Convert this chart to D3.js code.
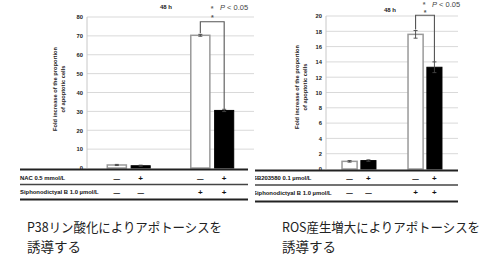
<!DOCTYPE html>
<html><head><meta charset="utf-8">
<script src="https://cdn.jsdelivr.net/npm/d3@7"></script>
<style>body{margin:0;background:#fff}svg{display:block}</style>
</head><body><svg id="c" width="492" height="268"></svg>
<script>
// ---- data ----
const groups = ["ctrl", "siph"];
const subgroups = ["minus", "plus"];
const leftValues = [1.6, 1.2, 70.3, 30.5];
const leftErrors = [0.3, 0.3, 0.5, 0.6];
const rightValues = [1.0, 1.1, 17.6, 13.3];
const rightErrors = [0.1, 0.1, 0.5, 0.7];
const leftTicks = [0, 10, 20, 30, 40, 50, 60, 70, 80];
const rightTicks = [0, 2, 4, 6, 8, 10, 12, 14, 16, 18, 20];
const row1Signs = ["—", "+", "—", "+"];
const row2Signs = ["—", "—", "+", "+"];
const leftRowLabels = ["NAC 0.5 mmol/L", "Siphonodictyal B 1.0 µmol/L"];
const rightRowLabels = ["SB203580 0.1 µmol/L", "Siphonodictyal B 1.0 µmol/L"];
const titleText = "48 h";
const sigStar = "*";
const sigText = "P < 0.05";
const yLabelLines = ["Fold increase of the proportion", "of apoptotic cells"];
const captionLeft = ["P38リン酸化によりアポトーシスを", "誘導する"];
const captionRight = ["ROS産生増大によりアポトーシスを", "誘導する"];
const leftBracketTop = 77.5, rightBracketTop = 20.1;

const svg = d3.select("#c");
svg.append("rect").attr("width", 492).attr("height", 268).attr("fill", "#fff");
const FONT = "'Liberation Sans', Arial, sans-serif";

function panel(cfg) {
  const g = svg.append("g");
  if (cfg.clipX != null) {
    const id = "clip" + cfg.clipX;
    svg.append("clipPath").attr("id", id).append("rect")
      .attr("x", cfg.clipX).attr("y", 0).attr("width", 492 - cfg.clipX).attr("height", 210);
    g.attr("clip-path", `url(#${id})`);
  }
  const y = d3.scaleLinear().domain(cfg.domain).range(cfg.yRange);
  const x = d3.scaleBand().domain(groups).range(cfg.xRange);
  const xi = d3.scaleBand().domain(subgroups).range([0, x.bandwidth()]).paddingInner(0.2).paddingOuter(0.85);
  const data = cfg.values.map((v, i) => ({ v, e: cfg.errors[i], g: groups[Math.floor(i / 2)], s: subgroups[i % 2], i }));
  const cx = d => x(d.g) + xi(d.s) + xi.bandwidth() / 2;

  // grid
  g.append("g").selectAll("line").data(cfg.ticks.filter(t => t > 0)).join("line")
    .attr("x1", cfg.xRange[0]).attr("x2", cfg.xRange[1])
    .attr("y1", d => y(d)).attr("y2", d => y(d))
    .attr("stroke", "#d9d9d9").attr("stroke-width", 1);
  // y axis line
  g.append("line").attr("x1", cfg.xRange[0]).attr("x2", cfg.xRange[0])
    .attr("y1", y(cfg.domain[1])).attr("y2", y(0)).attr("stroke", "#c8c8c8");
  // tick labels
  const yAxis = d3.axisLeft(y).tickValues(cfg.ticks).tickSize(0).tickPadding(4);
  const ya = g.append("g").attr("transform", `translate(${cfg.xRange[0]},0)`).call(yAxis);
  ya.select(".domain").remove();
  ya.selectAll("text").attr("font-family", FONT).attr("font-weight", "bold")
    .attr("font-size", 5.8).attr("fill", "#222");

  // y label
  const yl = g.append("text").attr("transform", `translate(${cfg.yLabelX},${cfg.yLabelY}) rotate(-90)`)
    .attr("text-anchor", "middle").attr("font-family", FONT).attr("font-weight", "bold")
    .attr("font-size", 5.7).attr("fill", "#222");
  yLabelLines.forEach((t, k) => yl.append("tspan").attr("x", 0).attr("dy", k === 0 ? 0 : 7.8).text(t));

  // bars
  g.append("g").selectAll("rect").data(data).join("rect")
    .attr("x", d => x(d.g) + xi(d.s)).attr("width", xi.bandwidth())
    .attr("y", d => y(d.v)).attr("height", d => y(0) - y(d.v))
    .attr("fill", d => d.s === "minus" ? "#fff" : "#000")
    .attr("stroke", d => d.s === "minus" ? "#9a9a9a" : "#000")
    .attr("stroke-width", d => d.s === "minus" ? 1.5 : 1);

  // error bars
  const eb = g.append("g").attr("stroke", "#444").attr("stroke-width", 0.9);
  data.forEach(d => {
    eb.append("line").attr("x1", cx(d)).attr("x2", cx(d)).attr("y1", y(d.v + d.e)).attr("y2", y(d.v - d.e));
    eb.append("line").attr("x1", cx(d) - 2).attr("x2", cx(d) + 2).attr("y1", y(d.v + d.e)).attr("y2", y(d.v + d.e));
    eb.append("line").attr("x1", cx(d) - 2).attr("x2", cx(d) + 2).attr("y1", y(d.v - d.e)).attr("y2", y(d.v - d.e));
  });

  // significance bracket
  const a = data[2], b = data[3];
  const path = d3.path();
  path.moveTo(cx(a), y(a.v + a.e) - 1);
  path.lineTo(cx(a), y(cfg.bracketTop));
  path.lineTo(cx(b), y(cfg.bracketTop));
  path.lineTo(cx(b), y(b.v + b.e));
  g.append("path").attr("d", path.toString()).attr("fill", "none").attr("stroke", "#555").attr("stroke-width", 1.1);
  g.append("text").attr("x", (cx(a) + cx(b)) / 2).attr("y", y(cfg.bracketTop) + cfg.starDy)
    .attr("text-anchor", "middle").attr("font-family", FONT).attr("font-weight", "bold")
    .attr("font-size", 7).attr("fill", "#555").text(sigStar);

  // title + legend
  g.append("text").attr("x", cfg.titleX).attr("y", cfg.titleY).attr("text-anchor", "middle")
    .attr("font-family", FONT).attr("font-weight", "bold").attr("font-size", 6).attr("fill", "#222").text(titleText);
  g.append("text").attr("x", cfg.legX).attr("y", cfg.legStarY).attr("text-anchor", "middle")
    .attr("font-family", FONT).attr("font-weight", "bold").attr("font-size", 7).attr("fill", "#666").text(sigStar);
  const lt = g.append("text").attr("x", cfg.legX + 8).attr("y", cfg.legY)
    .attr("font-family", FONT).attr("font-size", 7.5).attr("fill", "#444");
  lt.append("tspan").attr("font-style", "italic").text(sigText.slice(0, 1));
  lt.append("tspan").text(sigText.slice(1));

  // table lines
  const tl = g.append("g");
  [[cfg.tableY[0], "#222", 1.8], [cfg.tableY[1], "#444", 1.3], [cfg.tableY[2], "#222", 1.8]].forEach(([yy, c, w]) => {
    tl.append("line").attr("x1", cfg.tableX[0]).attr("x2", cfg.tableX[1]).attr("y1", yy).attr("y2", yy)
      .attr("stroke", c).attr("stroke-width", w);
  });
  // row labels
  cfg.rowLabels.forEach((t, k) => {
    g.append("text").attr("x", cfg.labelX).attr("y", cfg.rowY[k]).attr("dominant-baseline", "central")
      .attr("font-family", FONT).attr("font-weight", "bold").attr("font-size", 5.9).attr("fill", "#111").text(t);
  });
  [row1Signs, row2Signs].forEach((signs, k) => {
    g.append("g").selectAll("text").data(data).join("text")
      .attr("x", d => cx(d)).attr("y", cfg.rowY[k]).attr("dominant-baseline", "central")
      .attr("text-anchor", "middle").attr("font-family", FONT).attr("font-weight", "bold")
      .attr("font-size", d => signs[d.i] === "+" ? 8 : 6.5).attr("fill", "#111")
      .text(d => signs[d.i]);
  });

  // caption
  const cap = svg.append("g").attr("font-family", "'Noto Sans CJK JP', sans-serif").attr("font-size", 13).attr("fill", "#222");
  cap.append("text").attr("x", cfg.capX).attr("y", 232).attr("textLength", cfg.capW).attr("lengthAdjust", "spacingAndGlyphs").text(cfg.caption[0]);
  cap.append("text").attr("x", cfg.capX).attr("y", 252).attr("font-size", 13.5).text(cfg.caption[1]);
}

panel({
  domain: [0, 80], yRange: [168, 17], xRange: [87, 254], ticks: leftTicks,
  values: leftValues, errors: leftErrors, bracketTop: leftBracketTop, starDy: -1.5,
  yLabelX: 57, yLabelY: 89, titleX: 166, titleY: 9, legX: 212, legStarY: 11, legY: 10,
  tableY: [169.5, 184.5, 199.5], tableX: [20, 248], labelX: 20, rowY: [178, 192],
  rowLabels: leftRowLabels, caption: captionLeft, capX: 27, capW: 195
});
panel({
  domain: [0, 20], yRange: [169, 16], xRange: [326, 458], ticks: rightTicks,
  values: rightValues, errors: rightErrors, bracketTop: rightBracketTop, starDy: -0.5,
  yLabelX: 299, yLabelY: 87, titleX: 390, titleY: 12, legX: 424, legStarY: 6.5, legY: 7,
  tableY: [170.5, 185, 201.5], tableX: [255, 458], labelX: 253, rowY: [178, 192.5],
  rowLabels: rightRowLabels, caption: captionRight, capX: 282, capW: 198, clipX: 255
});
</script></body></html>
